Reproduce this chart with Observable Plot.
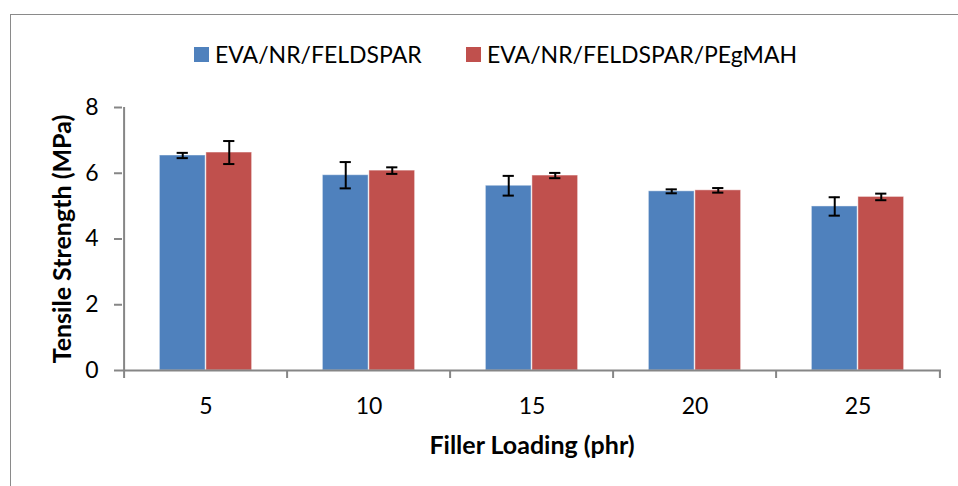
<!DOCTYPE html>
<html>
<head>
<meta charset="utf-8">
<script src="https://cdn.jsdelivr.net/npm/d3@7"></script>
<script src="https://cdn.jsdelivr.net/npm/@observablehq/plot@0.6"></script>
<style>
  html, body { margin: 0; padding: 0; background: #fff; }
  #wrap { position: relative; width: 958px; height: 486px; overflow: hidden; font-family: Lato, "Open Sans", sans-serif; }
  #border { position: absolute; left: 10px; top: 14px; width: 2000px; height: 2000px; border-left: 1.5px solid #8a8a8a; border-top: 1.5px solid #8a8a8a; pointer-events: none; }
  #legend { position: absolute; top: 38px; left: 0; width: 958px; height: 32px; font-size: 23px; color: #000; }
  .item { position: absolute; top: 0; display: flex; align-items: center; height: 32px; white-space: nowrap; }
  .sw { width: 15px; height: 15px; margin-right: 6px; }
  #chart { position: absolute; left: 0; top: 0; }
</style>
</head>
<body>
<div id="wrap">
  <div id="border"></div>
  <div id="chart"></div>
  <div id="legend"></div>
</div>
<script>
// ---- data ----
const loadings = ["5", "10", "15", "20", "25"];
const seriesNames = ["EVA/NR/FELDSPAR", "EVA/NR/FELDSPAR/PEgMAH"];
const evaValues = [6.54, 5.94, 5.62, 5.45, 4.99];
const evaErrors = [0.08, 0.40, 0.30, 0.06, 0.28];
const pegValues = [6.63, 6.08, 5.93, 5.48, 5.28];
const pegErrors = [0.35, 0.10, 0.08, 0.07, 0.10];
const yTicks = [0, 2, 4, 6, 8];
const colors = ["#4F81BD", "#C0504D"];
const xTitle = "Filler Loading (phr)";
const yTitle = "Tensile Strength (MPa)";

const rows = [];
loadings.forEach((c, i) => {
  rows.push({cat: c, series: seriesNames[0], value: evaValues[i], err: evaErrors[i]});
  rows.push({cat: c, series: seriesNames[1], value: pegValues[i], err: pegErrors[i]});
});
const s0 = rows.filter(d => d.series === seriesNames[0]);
const s1 = rows.filter(d => d.series === seriesNames[1]);

// ---- layout ----
const W = 958, H = 486, mL = 122, mR = 17, mT = 107, mB = 116;
const step = (W - mL - mR) / loadings.length;
const pad = step * 0.216;          // outer gap each side of a bar pair
const bw = step * 0.284;           // single bar width
const capHalf = 6;
const axisGray = "#868686";
const fs = 23;
const fsTitle = 25;

function errMarks(data, off) {
  const cL = step / 2 + off - capHalf, cR = step / 2 - off - capHalf;
  return [
    Plot.ruleX(data, {x: "cat", y1: d => d.value - d.err, y2: d => d.value + d.err, dx: off, stroke: "#000", strokeWidth: 2}),
    Plot.tickY(data, {x: "cat", y: d => d.value + d.err, insetLeft: cL, insetRight: cR, stroke: "#000", strokeWidth: 2}),
    Plot.tickY(data, {x: "cat", y: d => d.value - d.err, insetLeft: cL, insetRight: cR, stroke: "#000", strokeWidth: 2})
  ];
}

const chart = Plot.plot({
  width: W, height: H,
  marginLeft: mL, marginRight: mR, marginTop: mT, marginBottom: mB,
  style: {fontFamily: "Lato, 'Open Sans', sans-serif", fontSize: fs + "px", color: "#000", background: "transparent"},
  x: {type: "band", domain: loadings, paddingInner: 0, paddingOuter: 0, axis: null},
  y: {domain: [0, 8], axis: null},
  marks: [
    Plot.barY(s0, {x: "cat", y: "value", fill: colors[0], insetLeft: pad, insetRight: step - pad - bw, stroke: "#fff", strokeOpacity: 0.45, strokeWidth: 1}),
    Plot.barY(s1, {x: "cat", y: "value", fill: colors[1], insetLeft: pad + bw, insetRight: pad, stroke: "#fff", strokeOpacity: 0.45, strokeWidth: 1}),
    ...errMarks(s0, -bw / 2),
    ...errMarks(s1, bw / 2),
    // axes lines
    Plot.ruleY([0], {stroke: axisGray, strokeWidth: 2}),
    Plot.ruleX([loadings[0]], {dx: -step / 2, y1: 0, y2: 8, stroke: axisGray, strokeWidth: 2}),
    // y axis
    Plot.axisY({ticks: yTicks, tickSize: 8, tickPadding: 16, stroke: axisGray, strokeWidth: 2, fontSize: fs, label: null}),
    // x axis labels
    Plot.axisX({tickSize: 0, tickPadding: 27, fontSize: fs, label: null}),
    // x boundary ticks
    Plot.axisX({tickSize: 8, tickFormat: () => "", dx: -step / 2, stroke: axisGray, strokeWidth: 2, label: null}),
    Plot.axisX({ticks: [loadings[loadings.length - 1]], tickSize: 8, tickFormat: () => "", dx: step / 2, stroke: axisGray, strokeWidth: 2, label: null}),
    // titles
    Plot.text([xTitle], {frameAnchor: "bottom", dy: 75, textAnchor: "middle", lineAnchor: "middle", fontWeight: "bold", fontSize: fsTitle, fill: "#000"}),
    Plot.text([yTitle], {frameAnchor: "left", dx: -60, rotate: -90, textAnchor: "middle", lineAnchor: "middle", fontWeight: "bold", fontSize: fsTitle, fill: "#000"})
  ]
});
document.getElementById("chart").appendChild(chart);

// ---- legend (HTML, above the plot) ----
const legend = document.getElementById("legend");
const legendLefts = [194, 466];
seriesNames.forEach((name, i) => {
  const item = document.createElement("div");
  item.className = "item";
  item.style.left = legendLefts[i] + "px";
  const sw = document.createElement("span");
  sw.className = "sw";
  sw.style.background = colors[i];
  const tx = document.createElement("span");
  tx.textContent = name;
  item.appendChild(sw);
  item.appendChild(tx);
  legend.appendChild(item);
});
</script>
</body>
</html>
